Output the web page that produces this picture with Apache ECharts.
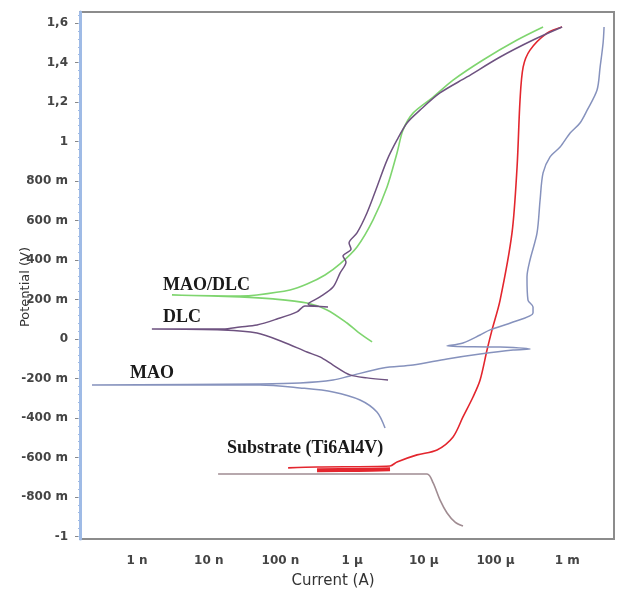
<!DOCTYPE html>
<html>
<head>
<meta charset="utf-8">
<script src="https://cdn.jsdelivr.net/npm/echarts@6/dist/echarts.min.js"></script>
<style>
  html, body { margin: 0; padding: 0; background: #fff; }
  #chart { width: 618px; height: 590px; }
</style>
</head>
<body>
<div id="chart"></div>
<script>
// axis ticks
const currentTicks = [1e-9, 1e-8, 1e-7, 1e-6, 1e-5, 1e-4, 1e-3]
const currentTickLabels = ['1 n', '10 n', '100 n', '1 µ', '10 µ', '100 µ', '1 m']
const potentialTicks = [-1, -0.8, -0.6, -0.4, -0.2, 0, 0.2, 0.4, 0.6, 0.8, 1, 1.2, 1.4, 1.6]
const potentialTickLabels = ['-1', '-800 m', '-600 m', '-400 m', '-200 m', '0', '200 m', '400 m', '600 m', '800 m', '1', '1,2', '1,4', '1,6']
const currentMin = 1.6e-10
const currentMax = 4.5e-3
const potentialMin = -1.013
const potentialMax = 1.656

// MAO/DLC (A, V)
const maoDlcCurrent = [1.90e-6, 1.21e-6, 8.49e-7, 4.47e-7, 2.35e-7, 7.87e-8, 2.73e-8, 3.07e-9, 2.73e-8, 4.71e-8, 1.36e-7, 2.35e-7, 4.19e-7, 6.78e-7, 1.17e-6, 1.96e-6, 3.07e-6, 4.23e-6, 5.13e-6, 7.08e-6, 1.35e-5, 2.56e-5, 6.70e-5, 2.00e-4, 4.61e-4]
const maoDlcPotential = [-0.015, 0.035, 0.081, 0.147, 0.182, 0.203, 0.213, 0.223, 0.218, 0.223, 0.248, 0.278, 0.324, 0.380, 0.466, 0.603, 0.770, 0.942, 1.058, 1.144, 1.225, 1.311, 1.413, 1.514, 1.580]

// DLC
const dlcCurrent = [3.17e-6, 1.61e-6, 9.35e-7, 5.42e-7, 3.56e-7, 2.35e-7, 1.09e-7, 4.71e-8, 1.58e-8, 1.61e-9, 1.58e-8, 2.73e-8, 4.71e-8, 8.95e-8, 1.70e-7, 2.20e-7, 4.61e-7, 2.43e-7, 3.56e-7, 5.42e-7, 6.78e-7, 8.22e-7, 7.46e-7, 9.66e-7, 9.06e-7, 1.17e-6, 1.61e-6, 2.22e-6, 3.07e-6, 4.23e-6, 5.83e-6, 8.85e-6, 1.68e-5, 4.01e-5, 1.16e-4, 3.34e-4, 8.49e-4]
const dlcPotential = [-0.208, -0.197, -0.182, -0.132, -0.091, -0.066, -0.015, 0.030, 0.046, 0.051, 0.051, 0.061, 0.071, 0.101, 0.137, 0.167, 0.162, 0.177, 0.213, 0.263, 0.334, 0.390, 0.420, 0.456, 0.486, 0.537, 0.638, 0.770, 0.906, 1.008, 1.094, 1.159, 1.246, 1.327, 1.428, 1.514, 1.580]

// MAO
const maoCurrent = [2.88e-6, 2.22e-6, 1.29e-6, 5.42e-7, 1.87e-7, 5.19e-8, 2.35e-10, 5.19e-8, 1.87e-7, 5.42e-7, 9.35e-7, 2.70e-6, 7.08e-6, 2.11e-5, 6.10e-5, 1.76e-4, 3.03e-4, 1.16e-4, 2.11e-5, 3.52e-5, 6.10e-5, 8.39e-5, 1.76e-4, 3.34e-4, 3.34e-4, 2.84e-4, 2.75e-4, 3.03e-4, 3.80e-4, 4.19e-4, 4.61e-4, 5.77e-4, 7.96e-4, 1.10e-3, 1.51e-3, 1.90e-3, 2.61e-3, 2.88e-3, 3.17e-3, 3.27e-3]
const maoPotential = [-0.451, -0.370, -0.309, -0.268, -0.248, -0.233, -0.233, -0.228, -0.223, -0.208, -0.187, -0.147, -0.132, -0.101, -0.076, -0.056, -0.051, -0.041, -0.035, -0.020, 0.020, 0.046, 0.086, 0.132, 0.162, 0.197, 0.314, 0.400, 0.537, 0.704, 0.841, 0.922, 0.972, 1.043, 1.094, 1.159, 1.261, 1.377, 1.499, 1.580]

// Substrate (Ti6Al4V): cathodic part, anodic part, noisy band
const subCathCurrent = [3.52e-5, 2.73e-5, 2.11e-5, 1.68e-5, 1.35e-5, 1.11e-5, 1.35e-8]
const subCathPotential = [-0.947, -0.927, -0.881, -0.815, -0.729, -0.684, -0.684]
const subAnodCurrent = [1.28e-7, 3.24e-7, 3.38e-6, 4.23e-6, 8.05e-6, 1.53e-5, 2.56e-5, 3.52e-5, 4.86e-5, 6.10e-5, 7.62e-5, 8.95e-5, 1.16e-4, 1.70e-4, 2.00e-4, 2.20e-4, 2.43e-4, 3.03e-4, 5.24e-4, 8.49e-4]
const subAnodPotential = [-0.653, -0.648, -0.643, -0.623, -0.587, -0.562, -0.496, -0.395, -0.294, -0.208, -0.056, 0.046, 0.197, 0.537, 0.871, 1.210, 1.377, 1.463, 1.549, 1.580]
const subBandCurrent = [3.24e-7, 1.2e-6, 3.38e-6]
const subBandPotential = [-0.665, -0.663, -0.660]

const toPoints = (cur, pot) => cur.map((c, i) => [Math.log10(c), pot[i]])

const chart = echarts.init(document.getElementById('chart'))

// minor ticks on the potential axis
const minorTicks = []
for (let v = -1; v <= 1.65; v += 0.04) minorTicks.push(+v.toFixed(2))

const lineSeries = (name, cur, pot, color, width) => ({
  name,
  type: 'line',
  data: toPoints(cur, pot),
  showSymbol: false,
  symbol: 'none',
  smooth: 0.3,
  lineStyle: { color, width },
  z: 3
})

const option = {
  animation: false,
  grid: {
    left: 80, right: 4, top: 12, bottom: 51,
    show: true, borderColor: '#8c8c8c', borderWidth: 2, backgroundColor: '#fff'
  },
  xAxis: {
    type: 'value',
    min: Math.log10(currentMin),
    max: Math.log10(currentMax),
    splitLine: { show: false },
    axisLine: { show: false },
    axisTick: { show: false },
    axisLabel: {
      customValues: currentTicks.map(v => Math.log10(v)),
      formatter: v => currentTickLabels[Math.round(v) + 9],
      margin: 16,
      color: '#444',
      fontFamily: 'DejaVu Sans',
      fontSize: 12,
      fontWeight: 'bold'
    }
  },
  yAxis: [
    {
      type: 'value',
      min: potentialMin,
      max: potentialMax,
      splitLine: { show: false },
      axisLine: { show: true, lineStyle: { color: '#9fbbe6', width: 3 } },
      axisTick: { show: true, customValues: potentialTicks, length: 5, lineStyle: { color: '#888', width: 1 } },
      axisLabel: {
        customValues: potentialTicks,
        formatter: v => potentialTickLabels[potentialTicks.findIndex(t => Math.abs(t - v) < 1e-6)],
        margin: 12,
        color: '#444',
        fontFamily: 'DejaVu Sans',
        fontSize: 12,
        fontWeight: 'bold'
      }
    },
    {
      type: 'value',
      position: 'left',
      min: potentialMin,
      max: potentialMax,
      splitLine: { show: false },
      axisLine: { show: false },
      axisTick: { show: true, customValues: minorTicks, length: 2, lineStyle: { color: '#9fbbe6', width: 1 } },
      axisLabel: { show: false }
    }
  ],
  series: [
    lineSeries('Substrate (cathodic)', subCathCurrent, subCathPotential, '#a08c92', 1.6),
    lineSeries('Substrate (Ti6Al4V)', subAnodCurrent, subAnodPotential, '#e3262e', 1.6),
    lineSeries('Substrate band', subBandCurrent, subBandPotential, '#e3262e', 4),
    lineSeries('MAO', maoCurrent, maoPotential, '#8692bd', 1.5),
    lineSeries('MAO/DLC', maoDlcCurrent, maoDlcPotential, '#7fd56f', 1.6),
    lineSeries('DLC', dlcCurrent, dlcPotential, '#6e5280', 1.5)
  ],
  graphic: [
    { type: 'text', x: 163, y: 285, style: { text: 'MAO/DLC', font: 'bold 18px "Liberation Serif"', fill: '#1a1a1a', verticalAlign: 'middle' } },
    { type: 'text', x: 163, y: 317, style: { text: 'DLC', font: 'bold 18px "Liberation Serif"', fill: '#1a1a1a', verticalAlign: 'middle' } },
    { type: 'text', x: 130, y: 373, style: { text: 'MAO', font: 'bold 18px "Liberation Serif"', fill: '#1a1a1a', verticalAlign: 'middle' } },
    { type: 'text', x: 227, y: 448, style: { text: 'Substrate (Ti6Al4V)', font: 'bold 18px "Liberation Serif"', fill: '#1a1a1a', verticalAlign: 'middle' } },
    { type: 'text', x: 333, y: 581, style: { text: 'Current (A)', font: '15px "DejaVu Sans"', fill: '#333', align: 'center', verticalAlign: 'middle' } },
    { type: 'text', x: 26, y: 287, rotation: Math.PI / 2, style: { text: 'Potential (V)', font: '13px "DejaVu Sans"', fill: '#333', align: 'center', verticalAlign: 'middle' } }
  ]
}

chart.setOption(option)
</script>
</body>
</html>
